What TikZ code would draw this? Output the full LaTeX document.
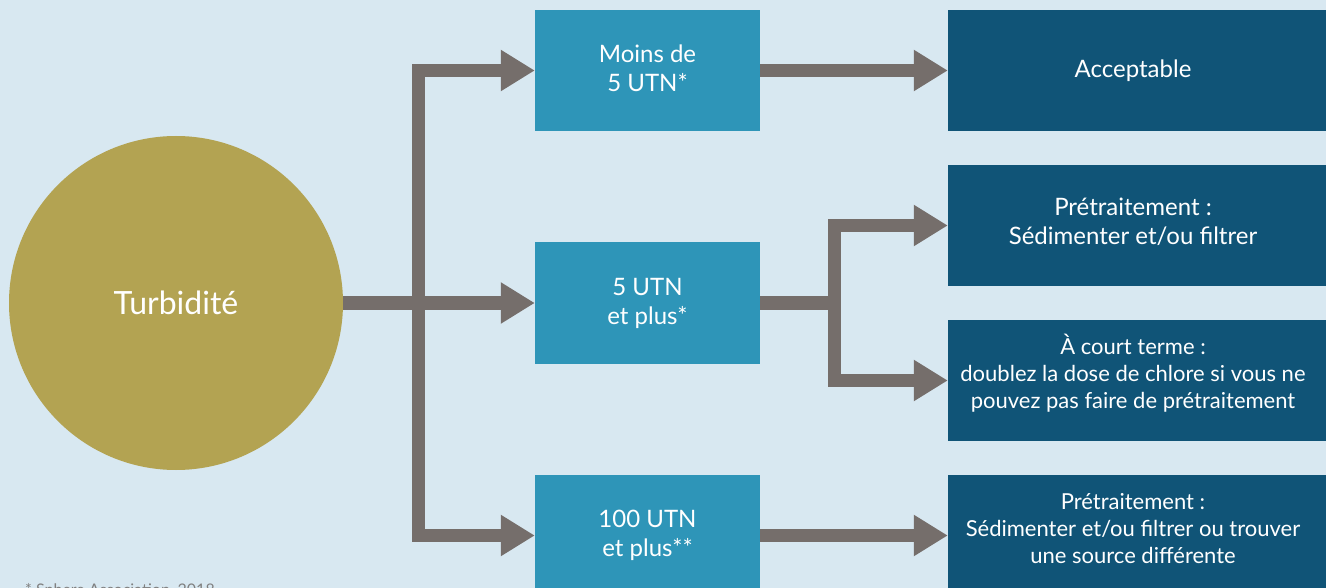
\documentclass[tikz,border=0pt]{standalone}
\usepackage{fontspec}
\setmainfont{Lato}
\usetikzlibrary{arrows.meta}
\definecolor{bg}{HTML}{D8E8F1}
\definecolor{lightbox}{HTML}{2E95B8}
\definecolor{darkbox}{HTML}{105477}
\definecolor{arrowgrey}{HTML}{756E6B}
\definecolor{gold}{HTML}{B3A352}
\definecolor{notegrey}{HTML}{808080}
\newcommand\dropstrut[1]{\rule[-#1]{0pt}{#1}}
\tikzset{
 lbox/.style={fill=lightbox, text=white, minimum width=225pt, minimum height=121pt, inner sep=0pt, align=center, font=\fontsize{24}{29}\selectfont},
 dbox/.style={fill=darkbox, text=white, minimum width=370pt, minimum height=121pt, inner sep=0pt, align=center, font=\fontsize{24}{29}\selectfont},
 small/.style={font=\fontsize{22}{27}\selectfont},
 flow/.style={draw=arrowgrey, line width=13pt, line join=miter},
 arr/.style={flow, -{Triangle[length=34pt,width=39pt]}}
}
\begin{document}
\begin{tikzpicture}[x=1pt,y=-1pt]
\useasboundingbox (0,0) rectangle (1326,588);
\clip (0,0) rectangle (1326,588);
\fill[bg] (0,0) rectangle (1326,588);
% nodes
\node[circle, fill=gold, minimum size=334pt, inner sep=0pt, text=white, font=\fontsize{32}{36}\selectfont] (turb) at (176,303) {Turbidité};
\node[lbox] (b1) at (647.5,70.5) {Moins de\\5 UTN*\dropstrut{4pt}};
\node[lbox] (b2) at (647.5,303) {5 UTN\\et plus*};
\node[lbox] (b3) at (647.5,535.5) {100 UTN\\et plus**};
\node[dbox] (d1) at (1133,70.5) {Acceptable};
\node[dbox] (d2) at (1133,225.5) {Prétraitement :\\Sédimenter et/ou filtrer\dropstrut{9pt}};
\node[dbox, small] (d3) at (1133,380.5) {À court terme :\\doublez la dose de chlore si vous ne\\pouvez pas faire de prétraitement\dropstrut{18pt}};
\node[dbox, small] (d4) at (1133,535.5) {Prétraitement :\\Sédimenter et/ou filtrer ou trouver\\une source différente\dropstrut{15pt}};
\foreach \d in {d1,d2,d3,d4}{
  \fill[darkbox] (\d.north east) rectangle ++(12,121);
}
% connectors
\coordinate (j1) at (418.5,303);
\coordinate (j2) at (834.5,303);
\draw[flow] (turb.east) -- (j1);
\draw[arr] (j1) |- (b1.west);
\draw[arr] (j1) -- (b2.west);
\draw[arr] (j1) |- (b3.west);
\draw[arr] (b1.east) -- (d1.west);
\draw[flow] (b2.east) -- (j2);
\draw[arr] (j2) |- (d2.west);
\draw[arr] (j2) |- (d3.west);
\draw[arr] (b3.east) -- (d4.west);
% footnote
\node[anchor=base west, inner sep=0pt, font=\fontsize{16}{18}\selectfont, text=notegrey] (note) at (25,595) {* Sphere Association, 2018};
\end{tikzpicture}
\end{document}
